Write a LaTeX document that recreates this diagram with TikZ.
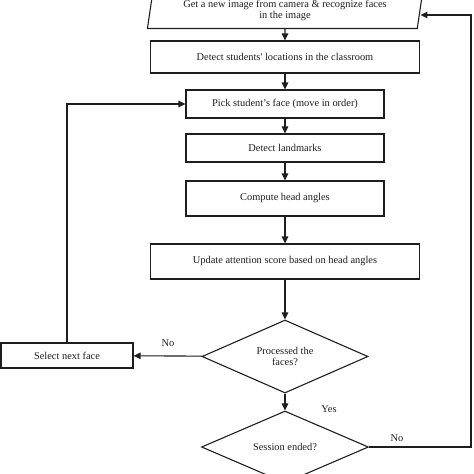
\documentclass[tikz,border=0pt]{standalone}
\usepackage{fontspec}
\setmainfont{Liberation Serif}
\usetikzlibrary{positioning, shapes.geometric, arrows.meta}
\tikzstyle{canvas} = [x = 1pt, y = -1pt]
\definecolor{lineColor}{RGB}{30,30,30}
\tikzstyle{flowText} = [font=\fontsize{10.4}{11.5}\selectfont, text=lineColor, align=center]
\tikzstyle{processBox} = [flowText, draw=lineColor, line width=1.1pt, rectangle, fill=white, inner sep=0pt]
\tikzstyle{inputBox} = [flowText, draw=lineColor, line width=1.1pt, trapezium, trapezium left angle=79, trapezium right angle=101, trapezium stretches=true, inner sep=0pt]
\tikzstyle{decisionBox} = [flowText, draw=lineColor, line width=1.1pt, diamond, aspect=2.3, inner sep=0pt]
\tikzstyle{flowArrow} = [draw=lineColor, line width=1.1pt, -{Triangle[length=7pt, width=6.5pt]}]
\tikzstyle{answerText} = [flowText]

\begin{document}
\begin{tikzpicture}[canvas]
  \useasboundingbox (0,0) rectangle (474,474);
  \clip (0,0) rectangle (474,474);

  \node [inputBox, minimum width=276, minimum height=36] (capture) at (285,10.5) {Get a new image from camera \& recognize faces\\in the image};
  \node [processBox, minimum width=269, minimum height=32] (locate) at (285,57) {Detect students\textquotesingle{} locations in the classroom};
  \node [processBox, minimum width=198, minimum height=28] (pick) at (285,104) {Pick student's face (move in order)};
  \node [processBox, minimum width=198, minimum height=28] (landmarks) at (285,148) {Detect landmarks};
  \node [processBox, minimum width=198, minimum height=35] (angles) at (285,198.5) {Compute head angles};
  \node [processBox, minimum width=269, minimum height=35] (update) at (285,261.5) {Update attention score based on head angles};
  \node [decisionBox, minimum width=166, minimum height=73] (processed) at (285,356.5) {Processed the\\faces?};
  \node [decisionBox, minimum width=167, minimum height=72] (ended) at (285,447) {Session ended?};
  \node [processBox, minimum width=132, minimum height=25] (nextFace) at (67,355.5) {Select next face};
  \coordinate (returnCorner) at (471,15);

  \draw [flowArrow] (capture) -- (locate);
  \draw [flowArrow] (locate) -- (pick);
  \draw [flowArrow] (pick) -- (landmarks);
  \draw [flowArrow] (landmarks) -- (angles);
  \draw [flowArrow] (angles) -- (update);
  \draw [flowArrow] (update) -- (processed);
  \draw [flowArrow] (processed) -- (ended);
  \draw [flowArrow] (processed) -- (nextFace);
  \draw [flowArrow] (nextFace.north) |- (pick.west);
  \draw [flowArrow] (ended.east) -| (returnCorner) -- (returnCorner -| capture.east);

  \node [answerText] (noFaces) at (168,343) {No};
  \node [answerText] (yesFaces) at (329,409) {Yes};
  \node [answerText] (noSession) at (397,438) {No};
\end{tikzpicture}
\end{document}
